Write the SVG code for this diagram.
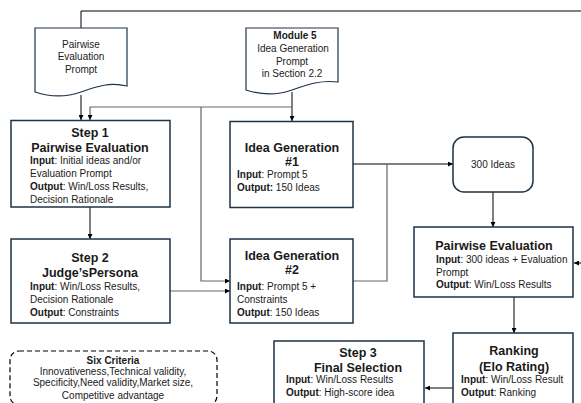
<svg xmlns="http://www.w3.org/2000/svg" width="581" height="403" viewBox="0 0 581 403">
<defs>
<marker id="ah" viewBox="0 0 10 10" refX="10" refY="5" markerWidth="5" markerHeight="5" orient="auto" markerUnits="userSpaceOnUse">
<path d="M0,0 L10,5 L0,10 Z" fill="#000"/>
</marker>
<style>
.box{fill:#fff;stroke:#1e3246;stroke-width:1.5}
.doc{fill:#fff;stroke:#1e3246;stroke-width:1.2}
.dash{fill:none;stroke:#000;stroke-width:1.2;stroke-dasharray:5,3}
.c{fill:none;stroke:#000;stroke-width:1}
.g{fill:none;stroke:#666;stroke-width:1.2}
text{font-family:"Liberation Sans",Arial,sans-serif;fill:#1a1a1a}
.h{font-size:12.5px;font-weight:bold;text-anchor:middle}
.b{font-size:10px}
.m{font-size:10px;text-anchor:middle}
.bb{font-weight:bold}
</style>
</defs>
<rect width="581" height="403" fill="#fff"/>

<g id="connectors">
<path class="c" d="M81,28 V11 H595 V263 H574" marker-end="url(#ah)"/>
<path class="c" d="M81,95 V120" marker-end="url(#ah)"/>
<path class="c" d="M292,92 V121" marker-end="url(#ah)"/>
<path class="g" d="M292,107 H90 V120" marker-end="url(#ah)"/>
<path class="g" d="M201,107 V281 H230" marker-end="url(#ah)"/>
<path class="g" d="M170,291 H230" marker-end="url(#ah)"/>
<path class="c" d="M90,207 V239" marker-end="url(#ah)"/>
<path class="c" d="M353,164 H453" marker-end="url(#ah)"/>
<path class="g" d="M353,281 H387 V164"/>
<path class="c" d="M493,192 V227" marker-end="url(#ah)"/>
<path class="c" d="M514,297 V333" marker-end="url(#ah)"/>
<path class="c" d="M453,388 H425" marker-end="url(#ah)"/>
</g>

<g id="doc-pairwise-prompt">
<path class="doc" d="M35,28 H127 V86 C110,82 98,86 81,92 C64,98 50,97 35,92 Z"/>
<text class="m" x="81" y="47.5">Pairwise</text>
<text class="m" x="81" y="59.5">Evaluation</text>
<text class="m" x="81" y="72.5">Prompt</text>
</g>

<g id="doc-module5">
<path class="doc" d="M246,28 H338 V82 C321,80 309,84 292,90 C275,96 261,95 246,90 Z"/>
<text class="m bb" x="295" y="38.5">Module 5</text>
<text class="m" x="293" y="51.5">Idea Generation</text>
<text class="m" x="292" y="64.5">Prompt</text>
<text class="m" x="292" y="76.5">in Section 2.2</text>
</g>

<g id="step1">
<rect class="box" x="11" y="120.5" width="159" height="86.5"/>
<text class="h" x="90" y="136.5">Step 1</text>
<text class="h" x="90" y="151.5">Pairwise Evaluation</text>
<text class="b" x="30" y="164"><tspan class="bb">Input</tspan>: Initial ideas and/or</text>
<text class="b" x="30" y="177">Evaluation Prompt</text>
<text class="b" x="30" y="190"><tspan class="bb">Output</tspan>: Win/Loss Results,</text>
<text class="b" x="30" y="202.5">Decision Rationale</text>
</g>

<g id="step2">
<rect class="box" x="11" y="239" width="159" height="84"/>
<text class="h" x="90" y="261.5">Step 2</text>
<text class="h" x="90" y="276.5">Judge’sPersona</text>
<text class="b" x="30" y="289.5"><tspan class="bb">Input</tspan>: Win/Loss Results,</text>
<text class="b" x="30" y="302.5">Decision Rationale</text>
<text class="b" x="30" y="315.5"><tspan class="bb">Output</tspan>: Constraints</text>
</g>

<g id="idea-gen-1">
<rect class="box" x="230" y="121.5" width="123" height="86"/>
<text class="h" x="292" y="151.5">Idea Generation</text>
<text class="h" x="292" y="165.5">#1</text>
<text class="b" x="237" y="177.5"><tspan class="bb">Input</tspan>: Prompt 5</text>
<text class="b" x="237" y="190.5"><tspan class="bb">Output:</tspan> 150 Ideas</text>
</g>

<g id="idea-gen-2">
<rect class="box" x="230" y="239" width="123" height="84"/>
<text class="h" x="292" y="259.5">Idea Generation</text>
<text class="h" x="292" y="273.5">#2</text>
<text class="b" x="237" y="289.5"><tspan class="bb">Input</tspan>: Prompt 5 +</text>
<text class="b" x="237" y="302.5">Constraints</text>
<text class="b" x="237" y="315.5"><tspan class="bb">Output</tspan>: 150 Ideas</text>
</g>

<g id="ideas-300">
<rect class="box" x="453" y="137" width="80" height="55" rx="11"/>
<text class="m" x="493" y="167.5">300 Ideas</text>
</g>

<g id="pairwise-eval">
<rect class="box" x="414" y="227" width="159" height="70"/>
<text class="h" x="494" y="249.5">Pairwise Evaluation</text>
<text class="b" x="436" y="262.5"><tspan class="bb">Input</tspan>: 300 ideas + Evaluation</text>
<text class="b" x="436" y="275.5">Prompt</text>
<text class="b" x="436" y="287.5"><tspan class="bb">Output</tspan>: Win/Loss Results</text>
</g>

<g id="ranking">
<rect class="box" x="453" y="333" width="120" height="80"/>
<text class="h" x="514" y="354.5">Ranking</text>
<text class="h" x="514" y="370.5">(Elo Rating)</text>
<text class="b" x="461" y="382.5"><tspan class="bb">Input</tspan>: Win/Loss Result</text>
<text class="b" x="461" y="395.5"><tspan class="bb">Output</tspan>: Ranking</text>
</g>

<g id="step3">
<rect class="box" x="274" y="341" width="150" height="72"/>
<text class="h" x="358" y="356.5">Step 3</text>
<text class="h" x="358" y="371.5">Final Selection</text>
<text class="b" x="286" y="382.5"><tspan class="bb">Input</tspan>: Win/Loss Results</text>
<text class="b" x="286" y="395.5"><tspan class="bb">Output</tspan>: High-score idea</text>
</g>

<g id="six-criteria">
<rect class="dash" x="10" y="351" width="207" height="54" rx="9"/>
<text class="m bb" x="113" y="363.5">Six Criteria</text>
<text class="m" x="113" y="374.5">Innovativeness,Technical validity,</text>
<text class="m" x="113" y="386">Specificity,Need validity,Market size,</text>
<text class="m" x="113" y="398.5">Competitive advantage</text>
</g>
</svg>
